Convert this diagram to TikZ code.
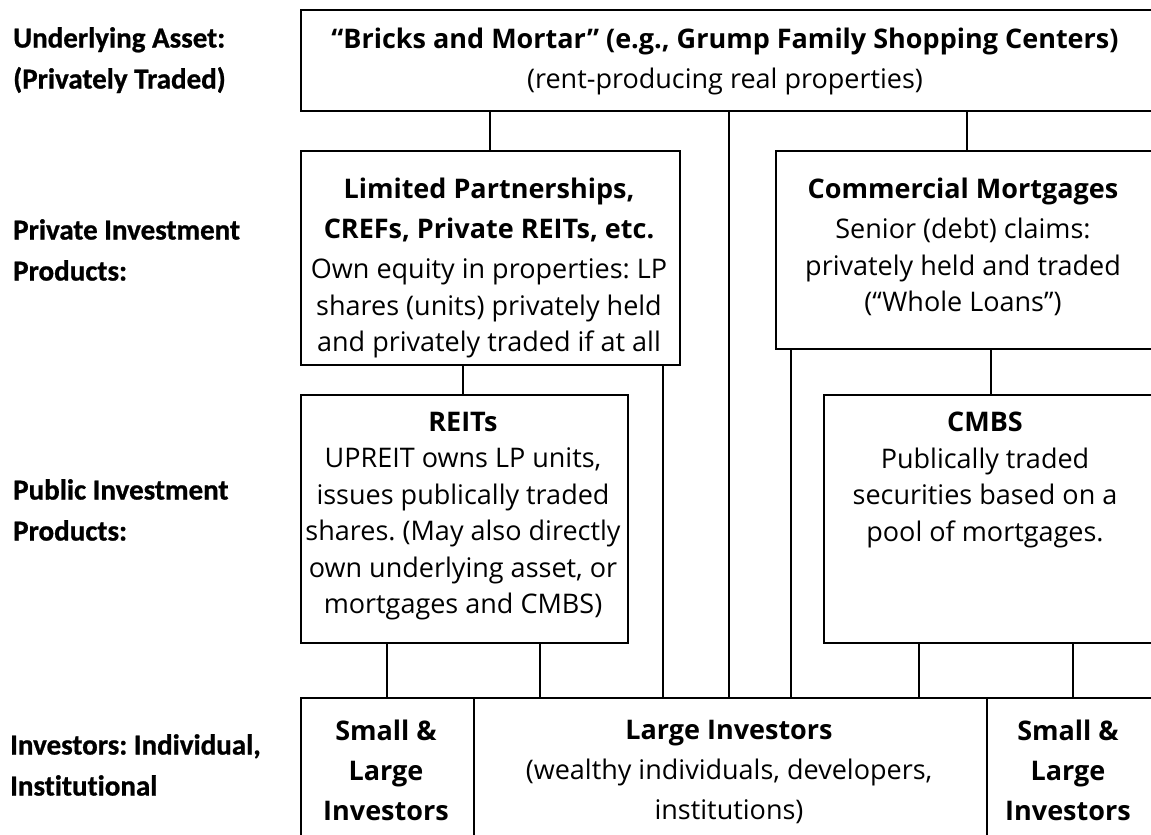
\documentclass[tikz,border=0pt]{standalone}
\usepackage{fontspec}
\setmainfont{Open Sans}
\newfontfamily\sidefont{Carlito}[Ligatures=NoCommon,BoldFeatures={FakeBold=0.8}]
\frenchspacing
\begin{document}
\begin{tikzpicture}[x=1pt,y=-1pt,
  box/.style={draw,line width=1.6pt,rectangle,inner sep=0pt,anchor=north west},
  txt/.style={align=center,inner sep=0pt,anchor=north,font=\fontsize{27}{36.5}\selectfont},
  side/.style={align=left,inner sep=0pt,anchor=north west,font=\sidefont\bfseries\fontsize{29}{41}\selectfont},
  link/.style={line width=1.6pt}]
\useasboundingbox (0,0) rectangle (1151,835);
\clip (0,0) rectangle (1151,835);
% boxes
\node[box,minimum width=870pt,minimum height=101pt] (top) at (300,9) {};
\node[box,minimum width=379pt,minimum height=214pt] (lp) at (300,150) {};
\node[box,minimum width=395pt,minimum height=198pt] (cm) at (775,150) {};
\node[box,minimum width=327pt,minimum height=248pt] (reits) at (300,394) {};
\node[box,minimum width=347pt,minimum height=248pt] (cmbs) at (823,394) {};
\node[box,minimum width=173pt,minimum height=160pt] (sl) at (300,697) {};
\node[box,minimum width=513pt,minimum height=160pt] (large) at (473,697) {};
\node[box,minimum width=184pt,minimum height=160pt] (sr) at (986,697) {};
% texts
\node[txt] (ttop) at (725,28) {\textbf{“Bricks and Mortar” (e.g., Grump Family Shopping Centers)}\\[3.5pt](rent-producing real properties)};
\node[txt] (tlp) at (489,178) {\textbf{Limited Partnerships,}\\[3.5pt]\textbf{CREFs, Private REITs, etc.}\\[3.5pt]Own equity in properties: LP\\shares (units) privately held\\and privately traded if at all};
\node[txt] (tcm) at (963,178) {\textbf{Commercial Mortgages}\\[3.5pt]Senior (debt) claims:\\privately held and traded\\(“Whole Loans”)};
\node[txt] (treits) at (463,412) {\textbf{REITs}\\UPREIT owns LP units,\\issues publically traded\\shares. (May also directly\\own underlying asset, or\\mortgages and CMBS)};
\node[txt] (tcmbs) at (985,412) {\textbf{CMBS}\\Publically traded\\securities based on a\\pool of mortgages.};
\node[txt] (tsl) at (386,720) {\textbf{Small \&}\\[3.5pt]\textbf{Large}\\[3.5pt]\textbf{Investors}};
\node[txt] (tlarge) at (729,720) {\textbf{Large Investors}\\[3.5pt](wealthy individuals, developers,\\[3.5pt]institutions)};
\node[txt] (tsr) at (1068,720) {\textbf{Small \&}\\[3.5pt]\textbf{Large}\\[3.5pt]\textbf{Investors}};
% side labels
\node[side] (l1) at (13,27) {Underlying Asset:\\(Privately Traded)};
\node[side] (l2) at (13,219) {Private Investment\\Products:};
\node[side] (l3) at (13,479) {Public Investment\\Products:};
\node[side] (l4) at (10,734) {Investors: Individual,\\Institutional};
% x positions of connectors
\coordinate (c1) at (490,0);
\coordinate (c2) at (967,0);
\coordinate (c3) at (729,0);
\coordinate (c4) at (463,0);
\coordinate (c5) at (663,0);
\coordinate (c6) at (791,0);
\coordinate (c7) at (991,0);
\coordinate (c8) at (387,0);
\coordinate (c9) at (540,0);
\coordinate (c10) at (919,0);
\coordinate (c11) at (1073,0);
\draw[link] (top.south -| c1) -- (lp.north -| c1);
\draw[link] (top.south -| c2) -- (cm.north -| c2);
\draw[link] (top.south -| c3) -- (large.north -| c3);
\draw[link] (lp.south -| c4) -- (reits.north -| c4);
\draw[link] (lp.south -| c5) -- (large.north -| c5);
\draw[link] (cm.south -| c6) -- (large.north -| c6);
\draw[link] (cm.south -| c7) -- (cmbs.north -| c7);
\draw[link] (reits.south -| c8) -- (sl.north -| c8);
\draw[link] (reits.south -| c9) -- (large.north -| c9);
\draw[link] (cmbs.south -| c10) -- (large.north -| c10);
\draw[link] (cmbs.south -| c11) -- (sr.north -| c11);
\end{tikzpicture}
\end{document}
